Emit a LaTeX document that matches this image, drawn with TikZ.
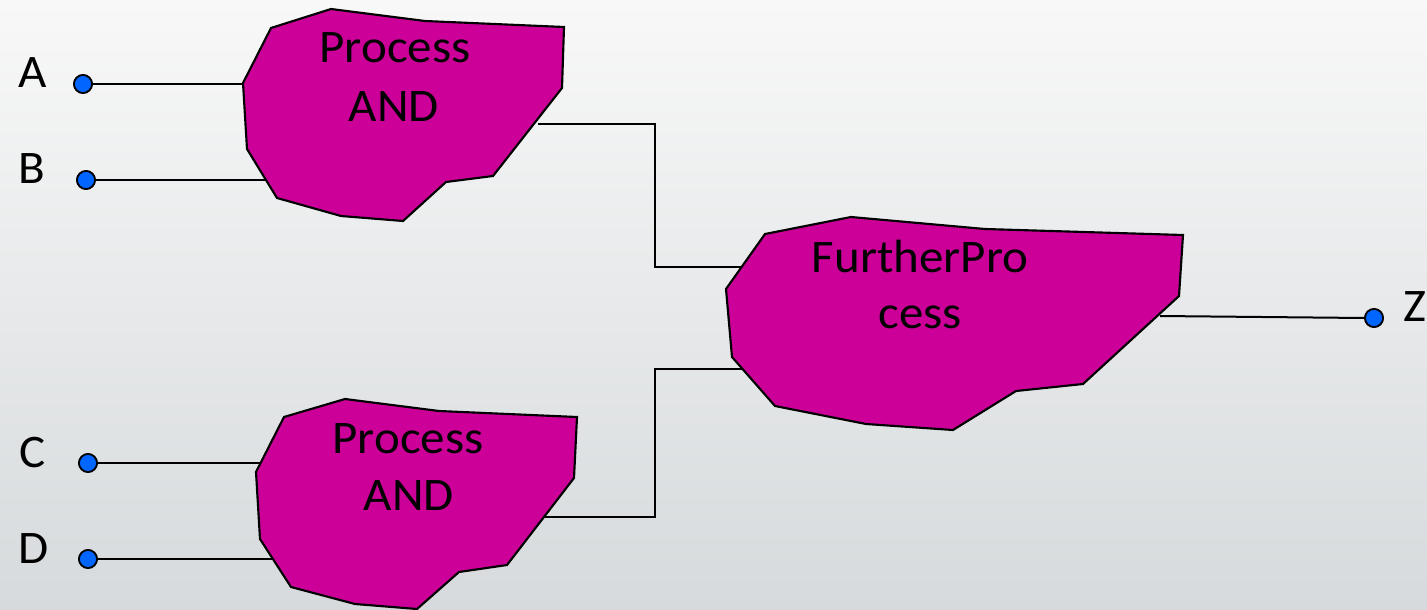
\documentclass[tikz,border=0pt]{standalone}
\usepackage{fontspec}
\setmainfont{Carlito}[FakeStretch=1.05]
\definecolor{procfill}{RGB}{204,0,153}
\definecolor{pinblue}{RGB}{0,102,255}
\definecolor{bglight}{RGB}{248,248,248}
\definecolor{bgdark}{RGB}{214,218,220}
\begin{document}
\begin{tikzpicture}[x=0.75pt,y=-0.75pt,
  blob/.style={draw=black, line width=1.6pt, fill=procfill, line join=miter},
  wire/.style={draw=black, line width=1.5pt},
  pin/.style={circle, draw=black, line width=1.3pt, fill=pinblue, minimum size=13.5pt, inner sep=0pt},
  lbl/.style={font=\fontsize{35}{42}\selectfont, inner sep=0pt, anchor=base},
]
\shade[shading angle=-55, top color=bglight, bottom color=bgdark] (0,0) rectangle (1427,610);
\useasboundingbox (0,0) rectangle (1427,610);

% pins
\node[pin] (pA) at (83,84) {};
\node[pin] (pB) at (86,180) {};
\node[pin] (pC) at (88,463) {};
\node[pin] (pD) at (88,559) {};
\node[pin] (pZ) at (1374,318) {};

% connector end points on the shapes
\coordinate (inA) at (250,84);
\coordinate (inB) at (275,180);
\coordinate (inC) at (262,463);
\coordinate (inD) at (275,559);
\coordinate (out1) at (538,124);
\coordinate (out2) at (545,517);
\coordinate (in3a) at (745,267);
\coordinate (in3b) at (745,369);
\coordinate (out3) at (1160,316);
\coordinate (j1) at (655,124);
\coordinate (j2) at (655,267);
\coordinate (j3) at (655,517);
\coordinate (j4) at (655,369);

% wires (under shapes)
\draw[wire] (pA.east) -- (inA);
\draw[wire] (pB.east) -- (inB);
\draw[wire] (pC.east) -- (inC);
\draw[wire] (pD.east) -- (inD);
\draw[wire] (out1) -- (j1) -- (j2) -- (in3a);
\draw[wire] (out2) -- (j3) -- (j4) -- (in3b);
\draw[wire] (out3) -- (pZ.west);

% process shapes
\draw[blob] (271,28) -- (331,9) -- (425,21) -- (564,27) -- (562,88) -- (493,176)
  -- (446,182) -- (403,221) -- (341,216) -- (277,198) -- (247,149) -- (243,83) -- cycle;
\draw[blob] (284,417) -- (345,399) -- (439,411) -- (577,417) -- (574,478) -- (507,565)
  -- (459,572) -- (417,609) -- (355,604) -- (291,587) -- (260,539) -- (256,472) -- cycle;
\draw[blob] (765,234) -- (851,217) -- (985,229) -- (1183,235) -- (1179,296) -- (1083,384)
  -- (1016,391) -- (953,430) -- (866,424) -- (775,406) -- (732,357) -- (726,289) -- cycle;

% redraw pins on top
\node[pin] at (pA) {};
\node[pin] at (pB) {};
\node[pin] at (pC) {};
\node[pin] at (pD) {};
\node[pin] at (pZ) {};

% texts
\node[lbl] (t1a) at (395,63) {Process};
\node[lbl] (t1b) at (394,121) {AND};
\node[lbl] (t2a) at (408,453) {Process};
\node[lbl] (t2b) at (409,510) {AND};
\node[lbl] (t3a) at (920,272) {FurtherPro};
\node[lbl] (t3b) at (920,328) {cess};

\node[lbl] (lA) at (33,88) {A};
\node[lbl] (lB) at (32,183) {B};
\node[lbl] (lC) at (33,467) {C};
\node[lbl] (lD) at (34,563) {D};
\node[lbl] (lZ) at (1415,321) {Z};
\end{tikzpicture}
\end{document}
